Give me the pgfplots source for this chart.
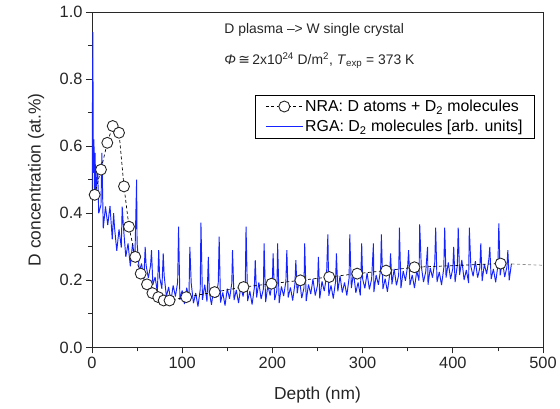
\documentclass[border=0pt]{standalone}
\usepackage{fontspec}
\setmainfont{Liberation Sans}
\newfontfamily\dejavu{DejaVu Sans}
\usepackage{pgfplots}
\pgfplotsset{compat=1.18}
\definecolor{rga}{RGB}{20,35,255}
\definecolor{rgaleg}{RGB}{80,110,255}
\definecolor{axc}{RGB}{40,40,40}
\begin{document}
\begin{tikzpicture}
\begin{axis}[
  name=ax,
  scale only axis, width=452.7bp, height=336.7bp,
  xmin=0, xmax=500, ymin=0, ymax=1,
  xtick={0,100,200,300,400,500}, ytick={0,0.2,0.4,0.6,0.8,1},
  minor x tick num=1, minor y tick num=1,
  tick align=outside, xtick pos=bottom, ytick pos=left,
  major tick length=6bp, minor tick length=4bp,
  axis line style={axc, line width=0.8bp},
  every tick/.style={axc, line width=0.8bp},
  /pgf/number format/assume math mode=true,
  yticklabel style={/pgf/number format/.cd, fixed, fixed zerofill, precision=1},
  ticklabel style={font=\fontsize{16.5}{19}\selectfont, text=black!85},
  xlabel={Depth (nm)}, ylabel={D concentration (at.\%)},
  label style={font=\fontsize{17.5}{20}\selectfont, text=black!85},
  xlabel style={at={(axis description cs:0.5,-0.143)}, anchor=center},
  ylabel style={at={(axis description cs:-0.124,0.5)}, anchor=center},
  legend style={at={(rel axis cs:0.982,0.7535)}, anchor=north east, draw=black, line width=0.8bp,
    font=\fontsize{16}{18}\selectfont, inner xsep=10bp, inner ysep=3bp, row sep=3bp,
    cells={anchor=west}},
  legend image code/.code={\draw[mark repeat=2,mark phase=2,#1] plot coordinates {(0bp,0bp)(18.5bp,0bp)(37bp,0bp)};},
  reverse legend,
]
\addplot[rga, line width=0.95bp, line join=bevel] coordinates {
(0.0,0.45) (0.5,0.70) (1.0,0.94) (1.5,0.52) (2.2,0.62) (2.8,0.47) (3.5,0.58) (4.2,0.44)
(5,0.498) (6.2,0.54) (7.5,0.400) (10,0.425) (11,0.58) (12.5,0.355) (15,0.420) (17.5,0.365)
(20,0.422) (22.5,0.322) (24,0.40) (25,0.358) (27.5,0.288) (30,0.352) (32.5,0.298) (33.5,0.42)
(35,0.355) (37.5,0.270) (40,0.310) (42.5,0.242) (45,0.310) (47.5,0.255) (49.5,0.50) (50,0.312)
(52.5,0.227) (55,0.250) (57.5,0.202) (59,0.30) (60,0.245) (62.5,0.207) (65,0.245) (66,0.29)
(67.5,0.187) (70,0.210) (72.5,0.165) (74,0.29) (75,0.210) (77.5,0.175) (79,0.28) (80,0.215)
(82.5,0.152) (85,0.180) (87.5,0.137) (90,0.185) (92.5,0.152) (95,0.195) (96,0.36) (97.5,0.142)
(100,0.170) (102.5,0.129) (105,0.178) (107.5,0.148) (108.5,0.30) (110,0.192) (112.5,0.132)
(115,0.162) (117.5,0.122) (120,0.172) (120.8,0.372) (122.5,0.142) (125,0.187) (127.5,0.137)
(129,0.27) (130,0.167) (132.5,0.127) (135,0.178) (137.5,0.148) (140,0.193) (141,0.33)
(142.5,0.134) (145,0.164) (147.5,0.125) (150,0.175) (152.5,0.145) (155,0.191) (155.8,0.29)
(157.5,0.141) (160,0.171) (162.5,0.132) (165,0.182) (167.5,0.152) (170,0.197) (170.8,0.36)
(172.5,0.138) (175,0.168) (177.5,0.128) (180,0.178) (181,0.26) (182.5,0.149) (185,0.194)
(187.5,0.144) (190,0.174) (190.8,0.31) (192.5,0.135) (195,0.185) (197.5,0.155) (200,0.200)
(200.8,0.28) (202.5,0.141) (205,0.171) (205.8,0.31) (207.5,0.132) (210,0.182) (212.5,0.153)
(215,0.198) (216,0.29) (217.5,0.149) (220,0.179) (222.5,0.140) (225,0.190) (226,0.26)
(227.5,0.161) (230,0.206) (232.5,0.147) (235,0.177) (235.8,0.31) (237.5,0.138) (240,0.188)
(242.5,0.159) (245,0.204) (247.5,0.155) (250,0.185) (251,0.27) (252.5,0.146) (255,0.197)
(257.5,0.168) (260,0.213) (261.5,0.337) (262.5,0.154) (265,0.185) (267.5,0.146) (270,0.196)
(271,0.28) (272.5,0.167) (275,0.213) (277.5,0.164) (280,0.194) (282.5,0.155) (285,0.206)
(285.8,0.337) (287.5,0.177) (290,0.222) (292.5,0.163) (295,0.194) (297.5,0.155) (299,0.31)
(300,0.205) (302.5,0.176) (305,0.222) (307.5,0.173) (310,0.204) (312,0.31) (312.5,0.165)
(315,0.216) (317.5,0.187) (320,0.233) (320.8,0.337) (322.5,0.174) (325,0.205) (327.5,0.166)
(330,0.217) (331,0.28) (332.5,0.188) (335,0.234) (337.5,0.185) (340,0.216) (340.8,0.357)
(342.5,0.177) (345,0.228) (347.5,0.199) (350,0.245) (351,0.29) (352.5,0.186) (355,0.216)
(357.5,0.177) (360,0.228) (362.5,0.199) (363.3,0.367) (365,0.244) (367.5,0.195) (370,0.226)
(372,0.30) (372.5,0.187) (375,0.237) (377.5,0.208) (380,0.254) (381,0.357) (382.5,0.195)
(385,0.225) (387.5,0.186) (390,0.237) (391,0.357) (392.5,0.208) (395,0.253) (397.5,0.204)
(400,0.235) (401,0.30) (402.5,0.195) (405,0.245) (406,0.357) (407.5,0.216) (410,0.261)
(412.5,0.201) (415,0.231) (417.5,0.192) (418.3,0.357) (420,0.242) (422.5,0.212) (425,0.257)
(427.5,0.208) (430,0.238) (431,0.31) (432.5,0.198) (435,0.248) (437.5,0.219) (440,0.264)
(441,0.30) (442.5,0.204) (445,0.234) (447.5,0.194) (450,0.245) (451,0.37) (452.5,0.215)
(455,0.260) (457.5,0.210) (460,0.240) (461,0.29) (462.5,0.200) (465,0.250)
};
\addlegendentry{RGA: D\textsubscript{2} molecules [arb. units]}
\addplot[black!45, line width=0.7bp, dash pattern=on 3bp off 2.5bp, forget plot] coordinates {(453,0.25) (500,0.245)};
\addplot[black, line width=0.7bp, dash pattern=on 3bp off 2.5bp,
  mark=*, mark size=5.5bp, mark options={solid, fill=white, draw=black!85, line width=0.9bp}] coordinates {
(3,0.455) (10,0.53) (17,0.61) (23,0.66) (30,0.64) (35.5,0.48) (41,0.36) (48,0.27) (54,0.22)
(61,0.188) (67,0.162) (73.5,0.15) (79.5,0.14) (86,0.14) (104.5,0.15) (136,0.165) (168,0.18)
(199,0.19) (231,0.20) (263,0.21) (294,0.22) (326,0.229) (357.5,0.239) (453,0.25)
};
\addlegendentry{NRA: D atoms + D\textsubscript{2} molecules}
\node[anchor=base west, font=\fontsize{14}{16}\selectfont, text=black!85] at (axis cs:143,0.935) {D plasma \textendash> W single crystal};
\node[anchor=base west, font=\fontsize{14}{16}\selectfont, text=black!85] at (axis cs:143,0.843) {\textit{Φ}\,{\dejavu ≅}\,2x10\textsuperscript{24} D/m\textsuperscript{2}, \textit{T}\textsubscript{exp} = 373 K};
\end{axis}
\path (ax.south west) ++(-92.3bp,-61.3bp) rectangle ++(560bp,410bp);
\end{tikzpicture}
\end{document}
